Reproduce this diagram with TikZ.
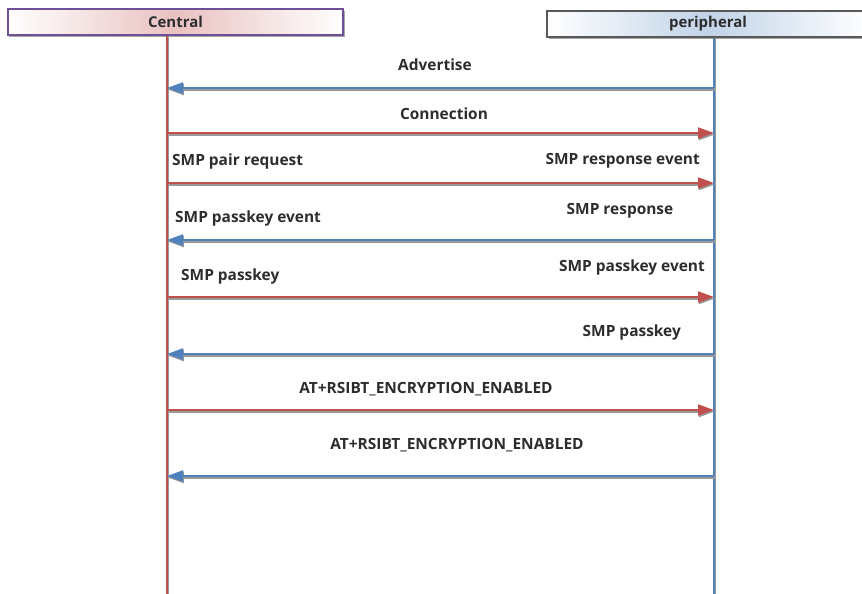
\documentclass[tikz,border=0pt]{standalone}
\usepackage{fontspec}
\setmainfont{Open Sans}
\usetikzlibrary{arrows.meta,shadows}

\definecolor{msgred}{RGB}{192,80,77}
\definecolor{msgblue}{RGB}{79,129,189}
\definecolor{hdrline}{RGB}{110,80,150}
\definecolor{txtgray}{RGB}{45,45,45}

\tikzset{
  hdr/.style={draw, line width=1.2bp, minimum height=26bp, inner sep=0pt,
    font=\bfseries\fontsize{15}{18}\selectfont, text=txtgray,
    drop shadow={shadow xshift=1.5bp, shadow yshift=-2bp, opacity=0.7}},
  life/.style={line width=2bp,
    preaction={draw=gray!80, line width=2.5bp, transform canvas={shift={(1.2bp,0)}}}},
  msg/.style={line width=2bp,
    -{Triangle[length=16bp,width=11bp]},
    preaction={draw=gray!80, line width=2.5bp, transform canvas={shift={(0.8bp,-1.5bp)}}}},
  lbl/.style={font=\bfseries\fontsize{15.5}{18}\selectfont, text=txtgray, inner sep=0pt}
}

\begin{document}
\begin{tikzpicture}[x=1bp,y=-1bp]
\useasboundingbox (0,0) rectangle (862,594);

\node[hdr, draw=hdrline, minimum width=335bp, left color=white, right color=white, middle color=msgred!35]
  (central) at (175.5,22) {Central};
\node[hdr, draw=gray!70!black, minimum width=322bp, left color=white, right color=white, middle color=msgblue!35]
  (peripheral) at (708,24) {peripheral};

\coordinate (cend) at (167,594);
\coordinate (pend) at (714,594);
\draw[life, msgred] (central.south -| cend) -- (cend);
\draw[life, msgblue] (peripheral.south -| pend) -- (pend);

\foreach \n/\y in {1/88,2/133,3/183,4/240,5/297,6/354,7/410,8/476} {
  \coordinate (c\n) at (167,\y);
  \coordinate (p\n) at (714,\y);
}

\draw[msg, msgblue] (p1) -- (c1);
\draw[msg, msgred] (c2) -- (p2);
\draw[msg, msgred] (c3) -- (p3);
\draw[msg, msgblue] (p4) -- (c4);
\draw[msg, msgred] (c5) -- (p5);
\draw[msg, msgblue] (p6) -- (c6);
\draw[msg, msgred] (c7) -- (p7);
\draw[msg, msgblue] (p8) -- (c8);

\node[lbl] (advertise) at (435,65) {Advertise};
\node[lbl] (connection) at (444,114) {Connection};
\node[lbl, anchor=west] (pairreq) at (172,161) {SMP pair request};
\node[lbl, anchor=east] (respevent) at (700,161) {SMP response event};
\node[lbl, anchor=west] (passevent1) at (175,218) {SMP passkey event};
\node[lbl] (resp) at (620,211) {SMP response};
\node[lbl, anchor=west] (pass1) at (181,276) {SMP passkey};
\node[lbl, anchor=east] (passevent2) at (705,267) {SMP passkey event};
\node[lbl, anchor=east] (pass2) at (681,332) {SMP passkey};
\node[lbl] (enc1) at (426,389) {AT+RSIBT\_ENCRYPTION\_ENABLED};
\node[lbl] (enc2) at (457,445) {AT+RSIBT\_ENCRYPTION\_ENABLED};
\end{tikzpicture}
\end{document}
